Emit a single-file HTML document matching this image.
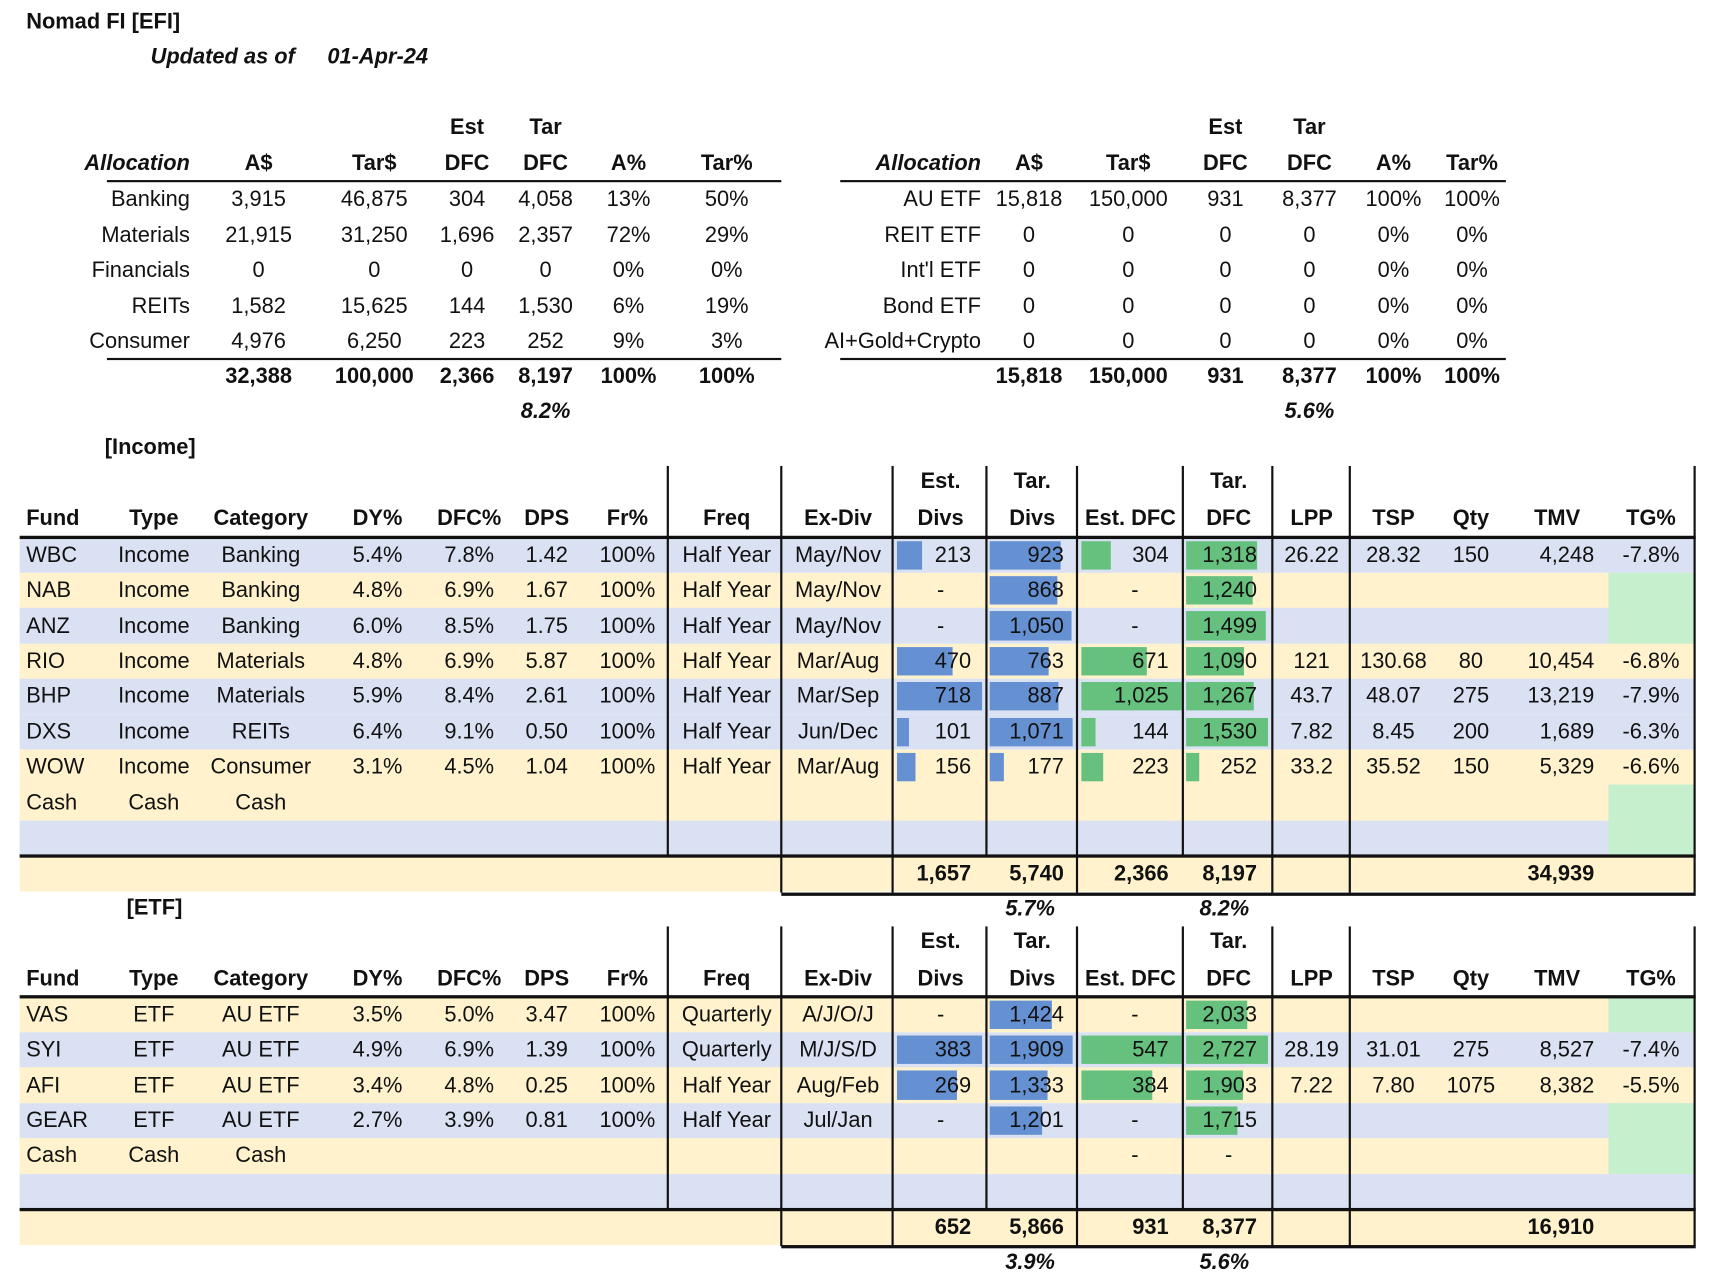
<!DOCTYPE html>
<html><head><meta charset="utf-8">
<style>
html,body{margin:0;padding:0;background:#fff;width:1711px;height:1283px;overflow:hidden}
#stage{position:absolute;left:0;top:0;width:1568px;height:1176px;transform:scale(1.09119);transform-origin:0 0;font-family:"Liberation Sans",sans-serif;font-size:20px;color:#111}
.t{position:absolute;height:24px;line-height:24px;white-space:nowrap}
.b{font-weight:bold}
.i{font-style:italic}
.r{position:absolute}
</style></head><body>
<div id="stage"></div>
<script>
// ---- top allocation tables ----
const sectorNames=['Banking','Materials','Financials','REITs','Consumer'];
const sectorA=['3,915','21,915','0','1,582','4,976'];
const sectorTar=['46,875','31,250','0','15,625','6,250'];
const sectorEst=['304','1,696','0','144','223'];
const sectorTarDfc=['4,058','2,357','0','1,530','252'];
const sectorAp=['13%','72%','0%','6%','9%'];
const sectorTp=['50%','29%','0%','19%','3%'];
const sectorTot=['32,388','100,000','2,366','8,197','100%','100%'];
const etfNames=['AU ETF','REIT ETF',"Int'l ETF",'Bond ETF','AI+Gold+Crypto'];
const etfA=['15,818','0','0','0','0'];
const etfTar=['150,000','0','0','0','0'];
const etfEst=['931','0','0','0','0'];
const etfTarDfc=['8,377','0','0','0','0'];
const etfAp=['100%','0%','0%','0%','0%'];
const etfTp=['100%','0%','0%','0%','0%'];
const etfTot=['15,818','150,000','931','8,377','100%','100%'];

// ---- income table ----
const incFund=['WBC','NAB','ANZ','RIO','BHP','DXS','WOW','Cash',''];
const incType=['Income','Income','Income','Income','Income','Income','Income','Cash',''];
const incCat=['Banking','Banking','Banking','Materials','Materials','REITs','Consumer','Cash',''];
const incDY=['5.4%','4.8%','6.0%','4.8%','5.9%','6.4%','3.1%','',''];
const incDFCp=['7.8%','6.9%','8.5%','6.9%','8.4%','9.1%','4.5%','',''];
const incDPS=['1.42','1.67','1.75','5.87','2.61','0.50','1.04','',''];
const incFr=['100%','100%','100%','100%','100%','100%','100%','',''];
const incFreq=['Half Year','Half Year','Half Year','Half Year','Half Year','Half Year','Half Year','',''];
const incEx=['May/Nov','May/Nov','May/Nov','Mar/Aug','Mar/Sep','Jun/Dec','Mar/Aug','',''];
const incEstDivs=[213,null,null,470,718,101,156,'',''];
const incTarDivs=[923,868,1050,763,887,1071,177,'',''];
const incEstDfc=[304,null,null,671,1025,144,223,'',''];
const incTarDfc=[1318,1240,1499,1090,1267,1530,252,'',''];
const incLPP=['26.22','','','121','43.7','7.82','33.2','',''];
const incTSP=['28.32','','','130.68','48.07','8.45','35.52','',''];
const incQty=['150','','','80','275','200','150','',''];
const incTMV=['4,248','','','10,454','13,219','1,689','5,329','',''];
const incTG=['-7.8%','','','-6.8%','-7.9%','-6.3%','-6.6%','',''];
const incBand=['b','y','b','y','b','b','y','y','b'];
const incGreen=[0,1,1,0,0,0,0,1,1];
const incTotals=['1,657','5,740','2,366','8,197','34,939'];
const incPct=['5.7%','8.2%'];

// ---- ETF table ----
const eFund=['VAS','SYI','AFI','GEAR','Cash',''];
const eType=['ETF','ETF','ETF','ETF','Cash',''];
const eCat=['AU ETF','AU ETF','AU ETF','AU ETF','Cash',''];
const eDY=['3.5%','4.9%','3.4%','2.7%','',''];
const eDFCp=['5.0%','6.9%','4.8%','3.9%','',''];
const eDPS=['3.47','1.39','0.25','0.81','',''];
const eFr=['100%','100%','100%','100%','',''];
const eFreq=['Quarterly','Quarterly','Half Year','Half Year','',''];
const eEx=['A/J/O/J','M/J/S/D','Aug/Feb','Jul/Jan','',''];
const eEstDivs=[null,383,269,null,'',''];
const eTarDivs=[1424,1909,1333,1201,'',''];
const eEstDfc=[null,547,384,null,null,''];
const eTarDfc=[2033,2727,1903,1715,null,''];
const eLPP=['','28.19','7.22','','',''];
const eTSP=['','31.01','7.80','','',''];
const eQty=['','275','1075','','',''];
const eTMV=['','8,527','8,382','','',''];
const eTG=['','-7.4%','-5.5%','','',''];
const eBand=['y','b','y','b','y','b'];
const eGreen=[1,0,0,1,1,0];
const eTotals=['652','5,866','931','8,377','16,910'];
const ePct=['3.9%','5.6%'];

const S=document.getElementById('stage');
const BLUE='#d9e1f2',YEL='#fff2cc',GRN='#c6efce',BARB='#6591d3',BARG='#66c17f';

function txt(x,y,s,al,cls,name){
  const d=document.createElement('div');
  d.className='t '+(cls||'');
  d.textContent=s;
  
  
  d.style.top=(y-12)+'px';
  if(al==='l'){d.style.left=x+'px';}
  else if(al==='r'){d.style.right=(1568-x)+'px';}
  else{d.style.left=(x-200)+'px';d.style.width='400px';d.style.textAlign='center';}
  S.appendChild(d);return d;
}
function rect(x,y,w,h,c,name){
  const d=document.createElement('div');
  d.className='r';
  
  
  d.style.left=x+'px';d.style.top=y+'px';d.style.width=w+'px';d.style.height=h+'px';d.style.background=c;
  S.appendChild(d);return d;
}
function fmt(v){return v.toLocaleString('en-US');}

txt(24,20,'Nomad FI [EFI]','l','b','sheet-title');
txt(138,52,'Updated as of','l','b i','updated-label');
txt(300,52,'01-Apr-24','l','b i','updated-date');

function allocTable(ox,cols,names,cA,cT,cE,cD,cAp,cTp,tot,pct,pctX,lineX0,lineX1,pre){
  txt(cols[3],117,'Est','c','b',pre+'-header-est');
  txt(cols[4],117,'Tar','c','b',pre+'-header-tar');
  txt(cols[0],150,'Allocation','r','b i',pre+'-header-allocation');
  const hd=['A$','Tar$','DFC','DFC','A%','Tar%'];
  hd.forEach((h,i)=>txt(cols[i+1],150,h,'c','b',pre+'-header-'+i));
  rect(lineX0,165,lineX1-lineX0,2,'#111',pre+'-header-line');
  const arrs=[cA,cT,cE,cD,cAp,cTp];
  for(let r=0;r<names.length;r++){
    const y=183+r*32.5;
    txt(cols[0],y,names[r],'r','',pre+'-row-label');
    arrs.forEach((a,i)=>txt(cols[i+1],y,a[r],'c','',pre+'-row-value'));
  }
  rect(lineX0,328,lineX1-lineX0,2,'#111',pre+'-total-line');
  tot.forEach((v,i)=>txt(cols[i+1],345,v,'c','b',pre+'-total'));
  txt(pctX,377,pct,'c','b i',pre+'-dfc-pct');
}
allocTable(0,[174,237,343,428,500,576,666],sectorNames,sectorA,sectorTar,sectorEst,sectorTarDfc,sectorAp,sectorTp,sectorTot,'8.2%',500,98,716,'sector');
allocTable(0,[899,943,1034,1123,1200,1277,1349],etfNames,etfA,etfTar,etfEst,etfTarDfc,etfAp,etfTp,etfTot,'5.6%',1200,770,1380,'etf-alloc');

txt(96,410,'[Income]','l','b','income-section-title');
txt(116,832,'[ETF]','l','b','etf-section-title');

const colX={fund:24,type:141,cat:239,dy:346,dfc:430,dps:501,fr:575,freq:666,ex:768,ed:890,td:975,edfc:1071,tdfc:1152,lpp:1202,tsp:1277,qty:1348,tmv:1461,tg:1513};
const vlines=[612,716,818,904,987,1084,1166,1237,1553];
const totLines=[716,818,987,1166,1237,1553];

function holdTable(top,hdr1Y,hdrY,rowTop,d,pre){
  const n=d.fund.length,RH=32.4;
  const rowsBottom=rowTop+n*RH;
  for(let r=0;r<n;r++){
    const y=rowTop+r*RH;
    rect(18,y,1535,RH+0.5,d.band[r]==='b'?BLUE:YEL,pre+'-row-band');
    if(d.green[r]) rect(1474,y,79,RH+0.5,GRN,pre+'-tg-highlight');
  }
  const bars=[[d.ed,822,78,BARB,'est-divs-bar'],[d.td,907,76,BARB,'tar-divs-bar'],[d.edfc,991,92,BARG,'est-dfc-bar'],[d.tdfc,1087,75,BARG,'tar-dfc-bar']];
  bars.forEach(([arr,x0,full,c,nm])=>{
    const nums=arr.filter(v=>typeof v==='number');
    const mx=Math.max(...nums);
    arr.forEach((v,r)=>{if(typeof v==='number'){rect(x0,rowTop+r*RH+3,full*v/mx,RH-6,c,pre+'-'+nm);}});
  });
  rect(18,rowsBottom+1,1535,RH,YEL,pre+'-total-band');
  vlines.forEach(x=>rect(x-1,top,2,rowsBottom-top,'#111',pre+'-col-line'));
  totLines.forEach(x=>rect(x-1,rowsBottom,2,RH+2,'#111',pre+'-total-col-line'));
  rect(18,rowTop-2,1536,3,'#111',pre+'-header-line');
  rect(18,rowsBottom-1,1536,3,'#111',pre+'-total-top-line');
  rect(716,rowsBottom+RH+1,838,3,'#111',pre+'-total-bottom-line');
  txt(862,hdr1Y,'Est.','c','b',pre+'-h');txt(946,hdr1Y,'Tar.','c','b',pre+'-h');txt(1126,hdr1Y,'Tar.','c','b',pre+'-h');
  txt(24,hdrY,'Fund','l','b',pre+'-h');
  [['type','Type'],['cat','Category'],['dy','DY%'],['dfc','DFC%'],['dps','DPS'],['fr','Fr%'],['freq','Freq'],['ex','Ex-Div'],['lpp','LPP'],['tsp','TSP'],['qty','Qty'],['tg','TG%']].forEach(([k,h])=>txt(colX[k],hdrY,h,'c','b',pre+'-h'));
  txt(862,hdrY,'Divs','c','b',pre+'-h');txt(946,hdrY,'Divs','c','b',pre+'-h');
  txt(1036,hdrY,'Est. DFC','c','b',pre+'-h');txt(1126,hdrY,'DFC','c','b',pre+'-h');txt(1427,hdrY,'TMV','c','b',pre+'-h');
  for(let r=0;r<n;r++){
    const y=rowTop+r*RH+RH/2;
    txt(colX.fund,y,d.fund[r],'l','',pre+'-fund');
    ['type','cat','dy','dfc','dps','fr','freq','ex','lpp','tsp','qty','tg'].forEach(k=>txt(colX[k],y,d[k][r],'c','',pre+'-'+k));
    txt(colX.tmv,y,d.tmv[r],'r','',pre+'-tmv');
    [['ed',862],['td',946],['edfc',1040],['tdfc',1126]].forEach(([k,cx])=>{
      const v=d[k][r];
      if(typeof v==='number') txt(colX[k],y,fmt(v),'r','',pre+'-'+k);
      else if(v===null) txt(cx,y,'-','c','',pre+'-'+k);
    });
  }
  const ty=rowsBottom+RH/2+1;
  [colX.ed,colX.td,colX.edfc,colX.tdfc,colX.tmv].forEach((x,i)=>txt(x,ty,d.tot[i],'r','b',pre+'-total'));
  txt(944,ty+32,d.pct[0],'c','b i',pre+'-divs-pct');
  txt(1122,ty+32,d.pct[1],'c','b i',pre+'-dfc-pct');
}
holdTable(427,441,475,492.5,{fund:incFund,type:incType,cat:incCat,dy:incDY,dfc:incDFCp,dps:incDPS,fr:incFr,freq:incFreq,ex:incEx,ed:incEstDivs,td:incTarDivs,edfc:incEstDfc,tdfc:incTarDfc,lpp:incLPP,tsp:incTSP,qty:incQty,tmv:incTMV,tg:incTG,band:incBand,green:incGreen,tot:incTotals,pct:incPct},'income');
holdTable(849,863,897,913.5,{fund:eFund,type:eType,cat:eCat,dy:eDY,dfc:eDFCp,dps:eDPS,fr:eFr,freq:eFreq,ex:eEx,ed:eEstDivs,td:eTarDivs,edfc:eEstDfc,tdfc:eTarDfc,lpp:eLPP,tsp:eTSP,qty:eQty,tmv:eTMV,tg:eTG,band:eBand,green:eGreen,tot:eTotals,pct:ePct},'etf');
</script>
</body></html>
